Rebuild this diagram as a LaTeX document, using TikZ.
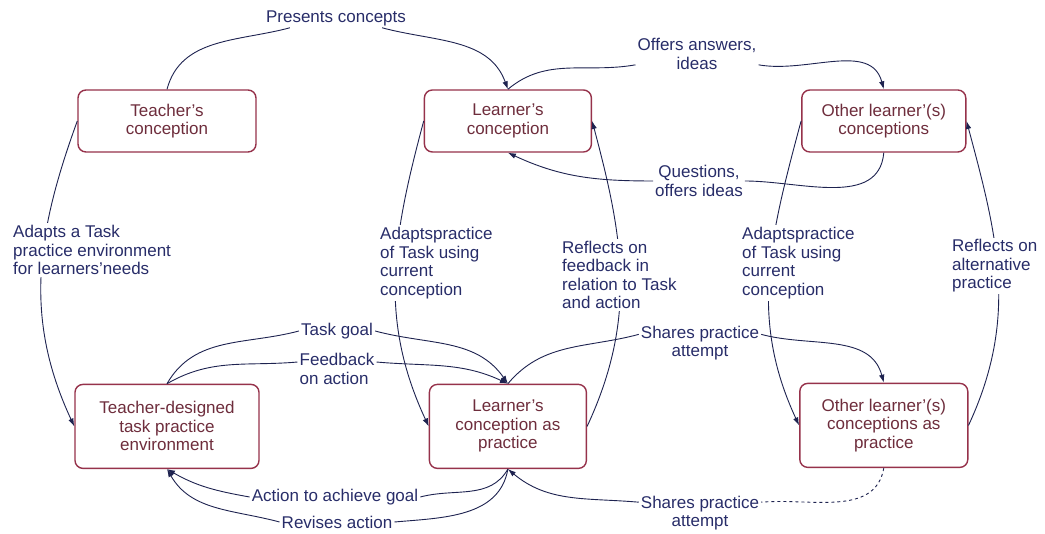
\documentclass[tikz,border=0pt]{standalone}
\usepackage{fontspec}
\setmainfont{Liberation Sans}
\usetikzlibrary{arrows.meta, positioning}
\definecolor{boxred}{RGB}{150,50,75}
\definecolor{boxtext}{RGB}{110,45,60}
\definecolor{notetext}{RGB}{40,45,105}
\definecolor{flowcol}{RGB}{30,35,80}
\tikzset{%
  concept/.style={draw=boxred, line width=1.4pt, rounded corners=8pt, text=boxtext,
    align=center, minimum height=62pt, inner sep=2pt},
  practice/.style={concept, minimum height=84pt},
  note/.style={text=notetext, fill=white, inner sep=2pt, align=center},
  side/.style={note, align=left, anchor=west},
  flow/.style={draw=flowcol, line width=0.9pt},
  move/.style={-{Latex[length=8pt,width=5.5pt]}},
}

\begin{document}
\begin{tikzpicture}[x=1pt, y=1pt, font=\fontsize{17}{18.5}\selectfont]
  \fill[white] (0,0) rectangle (1045,534);
  \useasboundingbox (0,0) rectangle (1045,534);

  \node[concept, minimum width=178pt] (tc) at (167,413) {Teacher's\\conception};
  \node[concept, minimum width=167pt, right=167pt of tc] (lc) {Learner's\\conception};
  \node[concept, minimum width=164pt, right=209pt of lc] (olc) {Other learner'(s)\\conceptions};

  \node[practice, minimum width=184pt, below=231pt of tc] (tdp) {Teacher-designed\\task practice\\environment};
  \node[practice, minimum width=157pt, below=231pt of lc] (lcp) {Learner's\\conception as\\practice};
  \node[practice, minimum width=168pt, below=230pt of olc] (ocp) {Other learner'(s)\\conceptions as\\practice};

  \draw[flow, move] (tc.west) to[out=-110, in=115] (tdp.west);
  \draw[flow, move] (lc.west) to[out=-105, in=115] (lcp.west);
  \draw[flow, move] (olc.west) to[out=-105, in=115] (ocp.west);
  \draw[flow, move] (lcp.east) to[out=65, in=-75] (lc.east);
  \draw[flow, move] (ocp.east) to[out=65, in=-75] (olc.east);

  \node[side] (adapt1) at (11,284) {Adapts a Task\\practice environment\\for learners'needs};
  \node[side] (adapt2) at (378,271) {Adaptspractice\\of Task using\\current\\conception};
  \node[side] (reflect1) at (560,259) {Reflects on\\feedback in\\relation to Task\\and action};
  \node[side] (adapt3) at (740,271) {Adaptspractice\\of Task using\\current\\conception};
  \node[side] (reflect2) at (950,268) {Reflects on\\alternative\\practice};

  \node[note] (presents) at (336,516) {Presents concepts};
  \node[note] (offers) at (697,480) {Offers answers,\\ideas};
  \node[note] (questions) at (699,353) {Questions,\\offers ideas};
  \node[note] (goal) at (337,203) {Task goal};
  \node[note, align=left] (feedback) at (337,165) {Feedback\\on action};
  \node[note] (sharesup) at (700,191) {Shares practice\\attempt};
  \node[note] (action) at (335,37) {Action to achieve goal};
  \node[note] (revises) at (337,12) {Revises action};
  \node[note] (sharesdown) at (700,21) {Shares practice\\attempt};

  \draw[flow] (tc.north) to[out=75, in=195] (presents.192);
  \draw[flow, move] (presents.-12) to[out=-15, in=110] (lc.north);

  \draw[flow] (lc.north) to[out=40, in=190] (offers.190);
  \draw[flow, move] (offers.-10) to[out=-10, in=105] (olc.north);

  \draw[flow] (olc.south) to[out=-95, in=0] (questions.east);
  \draw[flow, move] (questions.west) to[out=180, in=-25] (lc.south);

  \draw[flow] (tdp.north) to[out=60, in=195] (goal.west);
  \draw[flow, move] (goal.east) to[out=-15, in=125] (lcp.north);

  \draw[flow] (tdp.north) to[out=30, in=185] (feedback.170);
  \draw[flow, move] (feedback.10) to[out=-5, in=155] (lcp.north);

  \draw[flow] (lcp.north) to[out=50, in=195] (sharesup.172);
  \draw[flow, move] (sharesup.8) to[out=-15, in=105] (ocp.north);

  \draw[flow] (lcp.south) to[out=-120, in=15] (action.east);
  \draw[flow, move] (action.west) to[out=170, in=-30] (tdp.south);

  \draw[flow] (lcp.south) to[out=-100, in=5] (revises.east);
  \draw[flow, move] (revises.west) to[out=165, in=-60] (tdp.south);

  \draw[flow, dashed] (ocp.south) to[out=-100, in=5] (sharesdown.10);
  \draw[flow, move] (sharesdown.170) to[out=175, in=-40] (lcp.south);
\end{tikzpicture}
\end{document}
